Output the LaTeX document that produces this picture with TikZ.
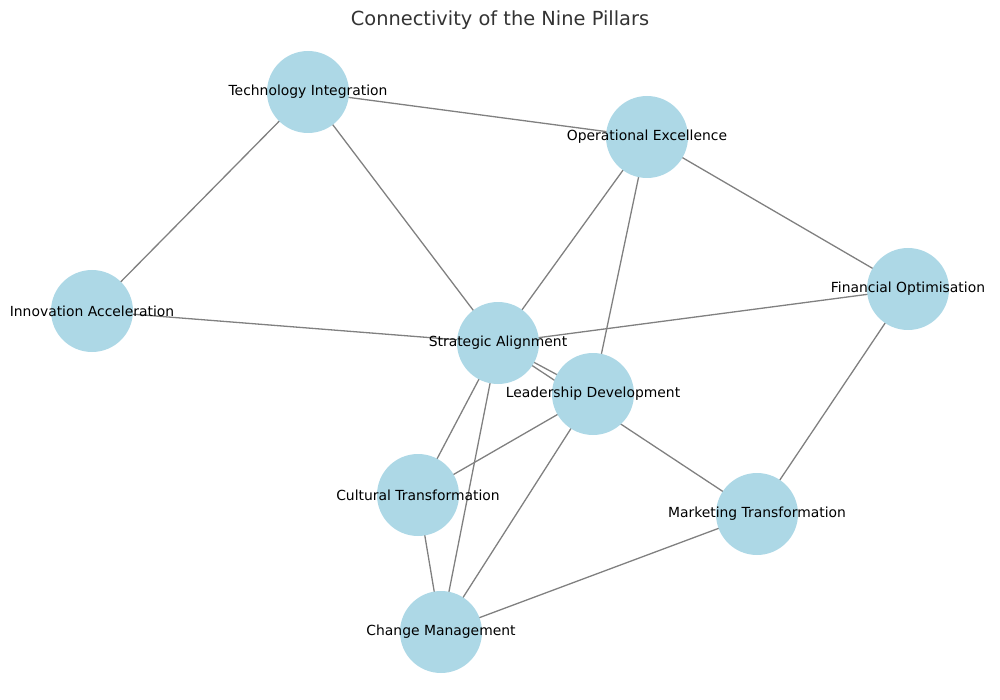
\documentclass[tikz,border=0pt]{standalone}
\usepackage{fontspec}
\setmainfont{DejaVu Sans}
\definecolor{nodeblue}{HTML}{ADD8E6}
\definecolor{edgegray}{HTML}{808080}
\definecolor{titlegray}{HTML}{333333}
\begin{document}
\begin{tikzpicture}[x=1pt,y=-1pt,
  pillar/.style={circle,fill=nodeblue,minimum size=82pt,inner sep=0pt},
  plabel/.style={font=\fontsize{13.9}{16}\selectfont,text=black},
  link/.style={draw=edgegray,line width=1.3pt}]
\useasboundingbox (0,0) rectangle (1000,700);
\coordinate (ti) at (308,92);
\coordinate (oe) at (647,137);
\coordinate (ia) at (92,311);
\coordinate (fo) at (908,289);
\coordinate (sa) at (498,343);
\coordinate (ld) at (593,394);
\coordinate (ct) at (418,495);
\coordinate (mt) at (757,514);
\coordinate (cm) at (441,632);
\foreach \a/\b in {ti/oe,ti/ia,ti/sa,oe/sa,oe/ld,oe/fo,ia/sa,fo/sa,fo/mt,sa/ld,sa/mt,sa/ct,sa/cm,ld/ct,ld/cm,ct/cm,mt/cm}
  \draw[link] (\a) -- (\b);
\foreach \c in {ti,oe,ia,fo,sa,ld,ct,mt,cm}
  \node[pillar] (\c-n) at (\c) {};
\node[plabel] (ti-l) at (ti) {Technology Integration};
\node[plabel] (oe-l) at (oe) {Operational Excellence};
\node[plabel] (ia-l) at (ia) {Innovation Acceleration};
\node[plabel] (fo-l) at (fo) {Financial Optimisation};
\node[plabel] (sa-l) at (sa) {Strategic Alignment};
\node[plabel] (ld-l) at (ld) {Leadership Development};
\node[plabel] (ct-l) at (ct) {Cultural Transformation};
\node[plabel] (mt-l) at (mt) {Marketing Transformation};
\node[plabel] (cm-l) at (cm) {Change Management};
\node[font=\fontsize{19.4}{22}\selectfont,text=titlegray] (title) at (500,20) {Connectivity of the Nine Pillars};
\end{tikzpicture}
\end{document}
